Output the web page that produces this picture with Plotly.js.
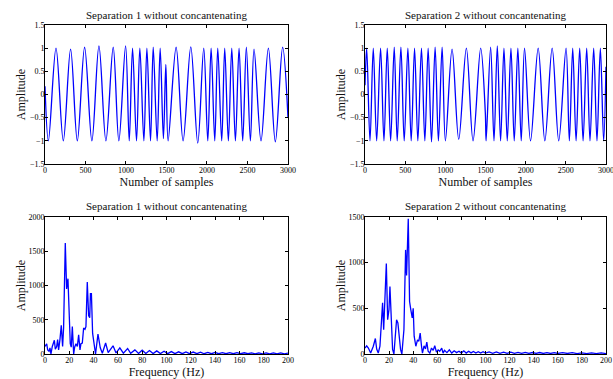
<!DOCTYPE html>
<html>
<head>
<meta charset="utf-8">
<script src="https://cdn.plot.ly/plotly-3.0.1.min.js"></script>
<style>html,body{margin:0;padding:0;background:#fff;}#chart{width:613px;height:379px;}</style>
</head>
<body>
<div id="chart"></div>
<script>
// ---- Data (extrema of the time signals, sample index / amplitude) ----
const sep1Samples = [0,42,136,226,316,399,489,579,666,752,842,912,995,1040,1081,1130,1171,1221,1258,1303,1336,1385,1422,1462,1492,1520,1619,1705,1800,1886,1960,2010,2051,2096,2133,2182,2219,2264,2306,2351,2396,2441,2486,2536,2581,2667,2758,2844,2934,3000];
const sep1Values  = [0.18,-1.0,1.0,-1.0,0.98,-1.0,1.02,-1.0,1.05,-1.0,1.02,-1.0,1.05,-1.0,1.0,-1.0,1.0,-1.0,1.0,-1.0,1.02,-1.0,1.0,-0.95,0.65,-1.0,1.02,-1.0,1.03,-1.05,1.0,-1.0,1.0,-1.0,1.0,-1.0,1.0,-1.0,1.0,-1.0,1.0,-1.0,1.02,-1.0,0.98,-1.0,1.0,-1.02,1.02,-0.5];

const sep2Samples = [0,21,62,103,145,194,236,277,319,364,401,447,488,534,575,617,658,703,745,786,828,873,914,960,1001,1084,1167,1262,1345,1440,1498,1508,1564,1606,1647,1688,1730,1771,1817,1858,1903,1945,1986,2061,2156,2239,2330,2412,2503,2544,2586,2628,2673,2715,2760,2801,2847,2888,2930,2971,3000];
const sep2Values  = [0.2,1.0,-1.0,1.0,-1.0,1.0,-1.0,1.0,-1.0,1.02,-1.0,1.02,-1.0,1.0,-1.0,1.0,-1.0,1.0,-1.0,1.0,-1.02,1.02,-1.0,1.02,-1.0,0.98,-0.97,1.0,-1.0,1.0,-0.4,-1.0,1.02,-1.0,1.05,-1.0,1.0,-1.0,1.0,-1.0,1.0,-1.0,1.0,-1.0,1.0,-1.0,1.0,-1.0,1.0,-1.0,1.0,-1.0,1.0,-1.0,1.0,-1.0,1.0,-1.0,1.0,-1.0,0.6];

// ---- Spectra (frequency in Hz / amplitude) ----
const spec1Freq = [0,1.4,2.2,3.3,4.1,4.9,6.0,7.7,8.5,9.6,10.4,11.2,12.3,13.4,14.5,15.3,16.7,17.8,18.9,19.7,20.8,21.6,22.5,23.6,24.4,25.5,26.6,27.7,28.8,29.6,30.7,31.8,32.9,33.7,34.8,35.9,36.8,37.4,38.2,39.2,40.3,41.6,43.6,45.5,47.2,48.5,49.9,52,56,58.5,61.6,64.5,68,70.5,74,77,80,83,86,89,92,95,98,101,104,107,110,113,116,119,122,125,128,131,134,137,140,143,146,149,152,155,158,161,164,167,170,173,176,179,182,185,188,191,194,197,200];
const spec1Amp  = [110,150,60,40,90,0,110,200,70,110,210,60,210,420,110,380,1620,950,1100,600,150,100,400,0,100,150,110,280,60,150,160,380,360,400,1050,560,530,880,880,300,160,0,290,90,10,100,160,20,120,15,90,12,80,10,60,8,55,8,50,6,45,6,40,5,35,5,32,5,30,5,28,5,26,4,24,4,22,4,21,4,20,4,19,4,18,4,17,3,16,3,16,3,15,3,15,3,14];

const spec2Freq = [0,1.4,2.8,4.7,6.9,8.6,9.7,11,12.4,14.6,15.5,16.6,17.7,18.8,19.9,20.7,21.8,22.9,24,25.1,26.2,27.3,28.4,29.5,30.6,32.3,33.7,34.5,35.9,37,38,39.2,40,40.8,42.2,43.6,44.7,45.8,46.9,47.7,49,50.2,51.3,52.4,53.8,55.2,56.6,57.9,59.3,60.7,62,63.7,64.8,66,68,70,72,74,76,78,80,82,84,86,88,90,92,94,96,98,100,103,106,109,112,115,118,121,124,127,130,133,136,139,142,145,148,151,154,157,160,164,168,172,176,180,184,188,192,196,200];
const spec2Amp  = [65,90,65,10,85,170,55,10,85,560,265,560,990,375,485,740,265,50,0,195,375,340,160,50,0,265,1140,860,1480,575,485,395,500,195,85,155,140,230,85,10,90,55,130,30,10,65,40,90,20,45,30,65,10,40,15,45,10,35,15,30,10,35,10,30,12,28,10,25,10,25,10,22,8,22,8,20,8,20,8,18,7,18,7,16,7,16,6,15,6,15,6,14,6,14,5,13,5,13,5,12,5];

// ---- Labels ----
const titleTop1 = "Separation 1 without concantenating";
const titleTop2 = "Separation 2 without concantenating";
const xLabelTime = "Number of samples";
const xLabelFreq = "Frequency (Hz)";
const yLabel = "Amplitude";
const timeTicks = [0,500,1000,1500,2000,2500,3000];
const ampTicks = [-1.5,-1,-0.5,0,0.5,1,1.5];
const freqTicks = [0,20,40,60,80,100,120,140,160,180,200];
const spec1Ticks = [0,500,1000,1500,2000];
const spec2Ticks = [0,500,1000,1500];

const FONT = "Liberation Serif, Times New Roman, serif";
const blue = "#0000ff";

const traces = [
  {x: sep1Samples, y: sep1Values, xaxis: "x", yaxis: "y", type: "scatter", mode: "lines",
   line: {color: blue, width: 1.3, shape: "spline", smoothing: 1}},
  {x: sep2Samples, y: sep2Values, xaxis: "x2", yaxis: "y2", type: "scatter", mode: "lines",
   line: {color: blue, width: 1.3, shape: "spline", smoothing: 1}},
  {x: spec1Freq, y: spec1Amp, xaxis: "x3", yaxis: "y3", type: "scatter", mode: "lines",
   line: {color: blue, width: 1.3}},
  {x: spec2Freq, y: spec2Amp, xaxis: "x4", yaxis: "y4", type: "scatter", mode: "lines",
   line: {color: blue, width: 1.3}}
];

function ax(extra) {
  return Object.assign({
    showline: true, linecolor: "#000", linewidth: 1, mirror: "ticks",
    ticks: "inside", ticklen: 3, tickcolor: "#000", tickwidth: 1,
    showgrid: false, zeroline: false, automargin: false,
    ticklabeloverflow: "allow", ticklabelstandoff: -2,
    tickfont: {family: FONT, size: 8, color: "#000"}
  }, extra);
}
const W = 613, H = 379;
const xd1 = [45 / W, 288 / W], xd2 = [365 / W, 606 / W];
const yTop = [1 - 164 / H, 1 - 25 / H], yBot = [1 - 354 / H, 1 - 217 / H];
const tfont = {family: FONT, size: 12, color: "#111"};
const e = 1e-4;

const layout = {
  width: W, height: H,
  margin: {l: 0, r: 0, t: 0, b: 0},
  paper_bgcolor: "#fff", plot_bgcolor: "#fff",
  showlegend: false,
  font: {family: FONT, color: "#111"},
  xaxis:  ax({domain: xd1, anchor: "y",  range: [0, 3000 * (1 + e)], tickvals: timeTicks,
              title: {text: xLabelTime, font: tfont, standoff: 0}}),
  yaxis:  ax({domain: yTop, anchor: "x", range: [-1.5 * (1 + e), 1.5 * (1 + e)], tickvals: ampTicks,
              title: {text: yLabel, font: tfont, standoff: 1}}),
  xaxis2: ax({domain: xd2, anchor: "y2", range: [0, 3000 * (1 + e)], tickvals: timeTicks,
              title: {text: xLabelTime, font: tfont, standoff: 0}}),
  yaxis2: ax({domain: yTop, anchor: "x2", range: [-1.5 * (1 + e), 1.5 * (1 + e)], tickvals: ampTicks,
              title: {text: yLabel, font: tfont, standoff: 1}}),
  xaxis3: ax({domain: xd1, anchor: "y3", range: [0, 200 * (1 + e)], tickvals: freqTicks,
              title: {text: xLabelFreq, font: tfont, standoff: 0}}),
  yaxis3: ax({domain: yBot, anchor: "x3", range: [0, 2000 * (1 + e)], tickvals: spec1Ticks,
              title: {text: yLabel, font: tfont, standoff: 0}}),
  xaxis4: ax({domain: xd2, anchor: "y4", range: [0, 200 * (1 + e)], tickvals: freqTicks,
              title: {text: xLabelFreq, font: tfont, standoff: 0}}),
  yaxis4: ax({domain: yBot, anchor: "x4", range: [0, 1500 * (1 + e)], tickvals: spec2Ticks,
              title: {text: yLabel, font: tfont, standoff: 0}}),
  annotations: [
    {text: titleTop1, xref: "paper", yref: "paper", x: (xd1[0] + xd1[1]) / 2, y: 1 - 15 / H,
     xanchor: "center", yanchor: "middle", showarrow: false, font: {family: FONT, size: 11, color: "#111"}},
    {text: titleTop2, xref: "paper", yref: "paper", x: (xd2[0] + xd2[1]) / 2, y: 1 - 15 / H,
     xanchor: "center", yanchor: "middle", showarrow: false, font: {family: FONT, size: 11, color: "#111"}},
    {text: titleTop1, xref: "paper", yref: "paper", x: (xd1[0] + xd1[1]) / 2, y: 1 - 206 / H,
     xanchor: "center", yanchor: "middle", showarrow: false, font: {family: FONT, size: 11, color: "#111"}},
    {text: titleTop2, xref: "paper", yref: "paper", x: (xd2[0] + xd2[1]) / 2, y: 1 - 206 / H,
     xanchor: "center", yanchor: "middle", showarrow: false, font: {family: FONT, size: 11, color: "#111"}}
  ]
};

Plotly.newPlot("chart", traces, layout, {displayModeBar: false, staticPlot: true});
</script>
</body>
</html>
